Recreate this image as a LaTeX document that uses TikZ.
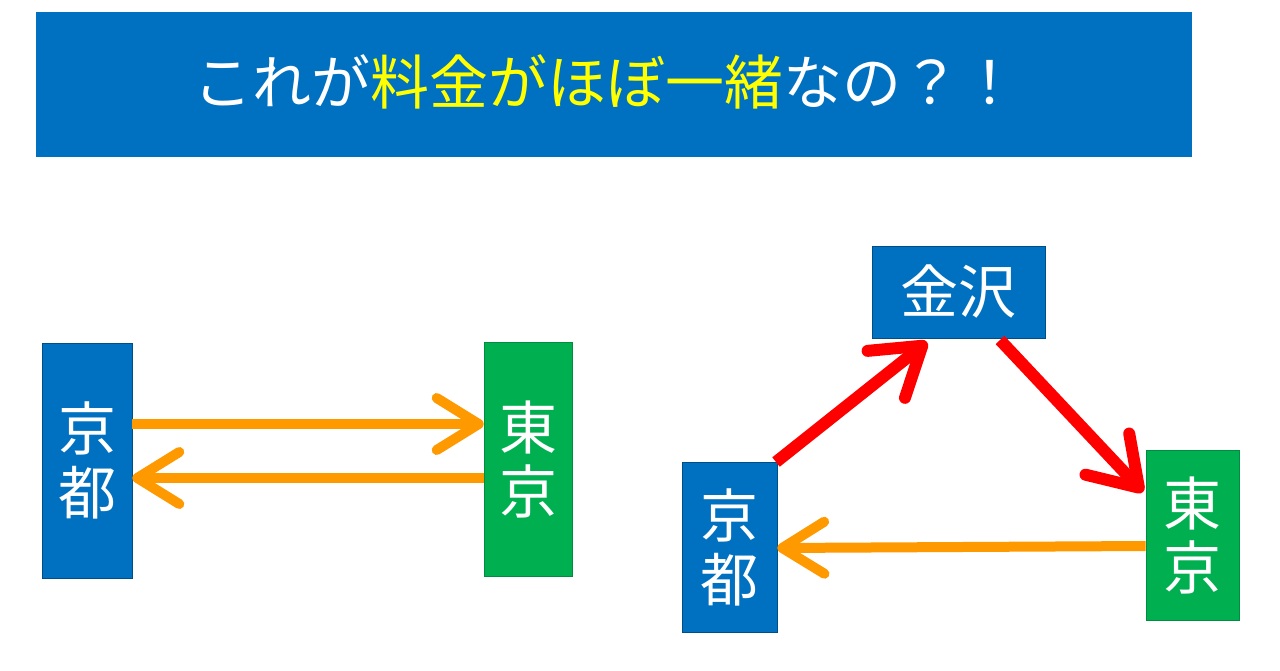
\documentclass[tikz,border=0pt]{standalone}
\usepackage{fontspec}
\setmainfont{Noto Sans CJK JP}
\usetikzlibrary{arrows.meta}
\definecolor{tblue}{HTML}{0070C0}
\definecolor{tgreen}{HTML}{00B050}
\definecolor{torange}{HTML}{FF9900}
\definecolor{tred}{HTML}{FF0000}
\definecolor{tyellow}{HTML}{FFFF00}
\begin{document}
\begin{tikzpicture}[x=1pt,y=-1pt,
  station/.style={draw=tblue!70!black,line width=0.6pt,text=white,inner sep=0pt,align=center,
    font=\fontsize{58}{64}\selectfont},
  kyoto/.style={station,fill=tblue},
  tokyo/.style={station,fill=tgreen,draw=tgreen!80!black},
  orangearrow/.style={draw=torange,line width=10pt,-{Straight Barb[length=42pt,width=52pt,round]}},
  redarrow/.style={draw=tred,line width=12pt,-{Straight Barb[length=46pt,width=60pt,round]}}]
\useasboundingbox (0,0) rectangle (1280,670);
\fill[white] (0,0) rectangle (1280,670);
% title
\node[fill=tblue,minimum width=1156pt,minimum height=145pt,inner sep=0pt] (title) at (614,84.5) {};
\node[text=white,font=\fontsize{59}{62}\selectfont,inner sep=0pt] (ttext) at (606,82) {これが\textcolor{tyellow}{料金がほぼ一緒}なの？！};
% left diagram
\node[kyoto,minimum width=90pt,minimum height=235pt] (k1) at (87,460.5) {京\\都};
\node[tokyo,minimum width=88pt,minimum height=234pt] (t1) at (528,459) {東\\京};
\draw[orangearrow] (k1.east |- 0,424) -- (t1.west |- 0,424);
\draw[orangearrow] (t1.west |- 0,478) -- (k1.east |- 0,478);
% right diagram
\node[kyoto,minimum width=173pt,minimum height=92pt] (kz) at (958.5,292) {金沢};
\node[kyoto,minimum width=95pt,minimum height=170pt] (k2) at (729.5,547) {京\\都};
\node[tokyo,minimum width=93pt,minimum height=170pt] (t2) at (1192.5,535) {東\\京};
\coordinate (a1) at (776,462);
\coordinate (a2) at (927,342);
\coordinate (b1) at (1000,340);
\coordinate (b2) at (1143,492);
\draw[redarrow] (a1) -- (a2);
\draw[redarrow] (b1) -- (b2);
\draw[orangearrow] (t2.west |- 0,546) -- (k2.east |- 0,548);
\end{tikzpicture}
\end{document}
